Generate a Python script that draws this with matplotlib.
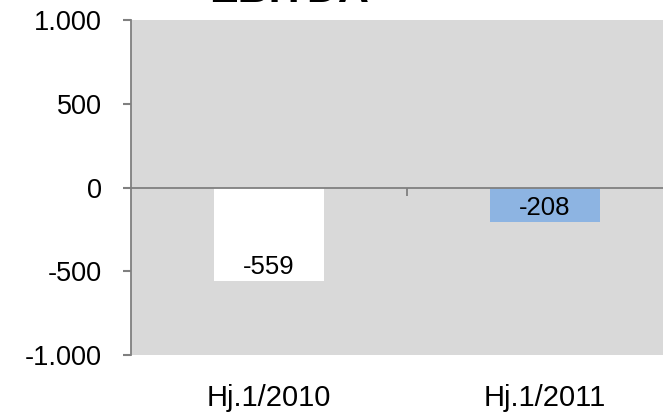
import matplotlib.pyplot as plt
from matplotlib.transforms import blended_transform_factory

plt.rcParams['font.family'] = ['Liberation Sans', 'DejaVu Sans']

# data
kategori = ['Hj.1/2010', 'Hj.1/2011']
nilai = [-559, -208]
warna_bar = ['#ffffff', '#8db4e2']
label_y = [1000, 500, 0, -500, -1000]
teks_y = ['1.000', '500', '0', '-500', '-1.000']

fig = plt.figure(figsize=(6.63, 4.18), dpi=100)
ax = fig.add_axes([131 / 663, 63 / 418, 552 / 663, 335 / 418])
ax.set_facecolor('#d9d9d9')

x = list(range(len(kategori)))
bars = ax.bar(x, nilai, width=0.4, color=warna_bar, zorder=2)

for b, v in zip(bars, nilai):
    ax.annotate(f'{v}', (b.get_x() + b.get_width() / 2, v),
                xytext=(0, 10), textcoords='offset points',
                ha='center', va='center', fontsize=18.5, zorder=3)

ax.set_xlim(-0.5, len(kategori) - 0.5)
ax.set_ylim(-1000, 1000)
ax.set_yticks(label_y)
ax.set_yticklabels(teks_y, fontsize=19.5)
ax.tick_params(axis='y', length=6, width=1.5, color='#808080', pad=15)

# sumbu x di posisi nol
ax.spines['bottom'].set_position(('data', 0))
ax.spines['bottom'].set_color('#808080')
ax.spines['bottom'].set_linewidth(1.3)
ax.spines['left'].set_color('#808080')
ax.spines['left'].set_linewidth(1.3)
ax.spines['top'].set_visible(False)
ax.spines['right'].set_visible(False)
ax.set_xticks([0.5])
ax.set_xticklabels([''])
ax.tick_params(axis='x', length=6, width=1.3, color='#808080')

trans = blended_transform_factory(ax.transData, ax.transAxes)
for xi, k in zip(x, kategori):
    ax.text(xi, -0.128, k, transform=trans, ha='center', va='center', fontsize=21)

# judul terpotong di tepi atas seperti aslinya
fig.text(289 / 663, 1 - 1.5 / 418, 'EBITDA', ha='center', va='baseline',
         fontsize=31, fontweight='bold')

plt.savefig('out.png', dpi=100)
